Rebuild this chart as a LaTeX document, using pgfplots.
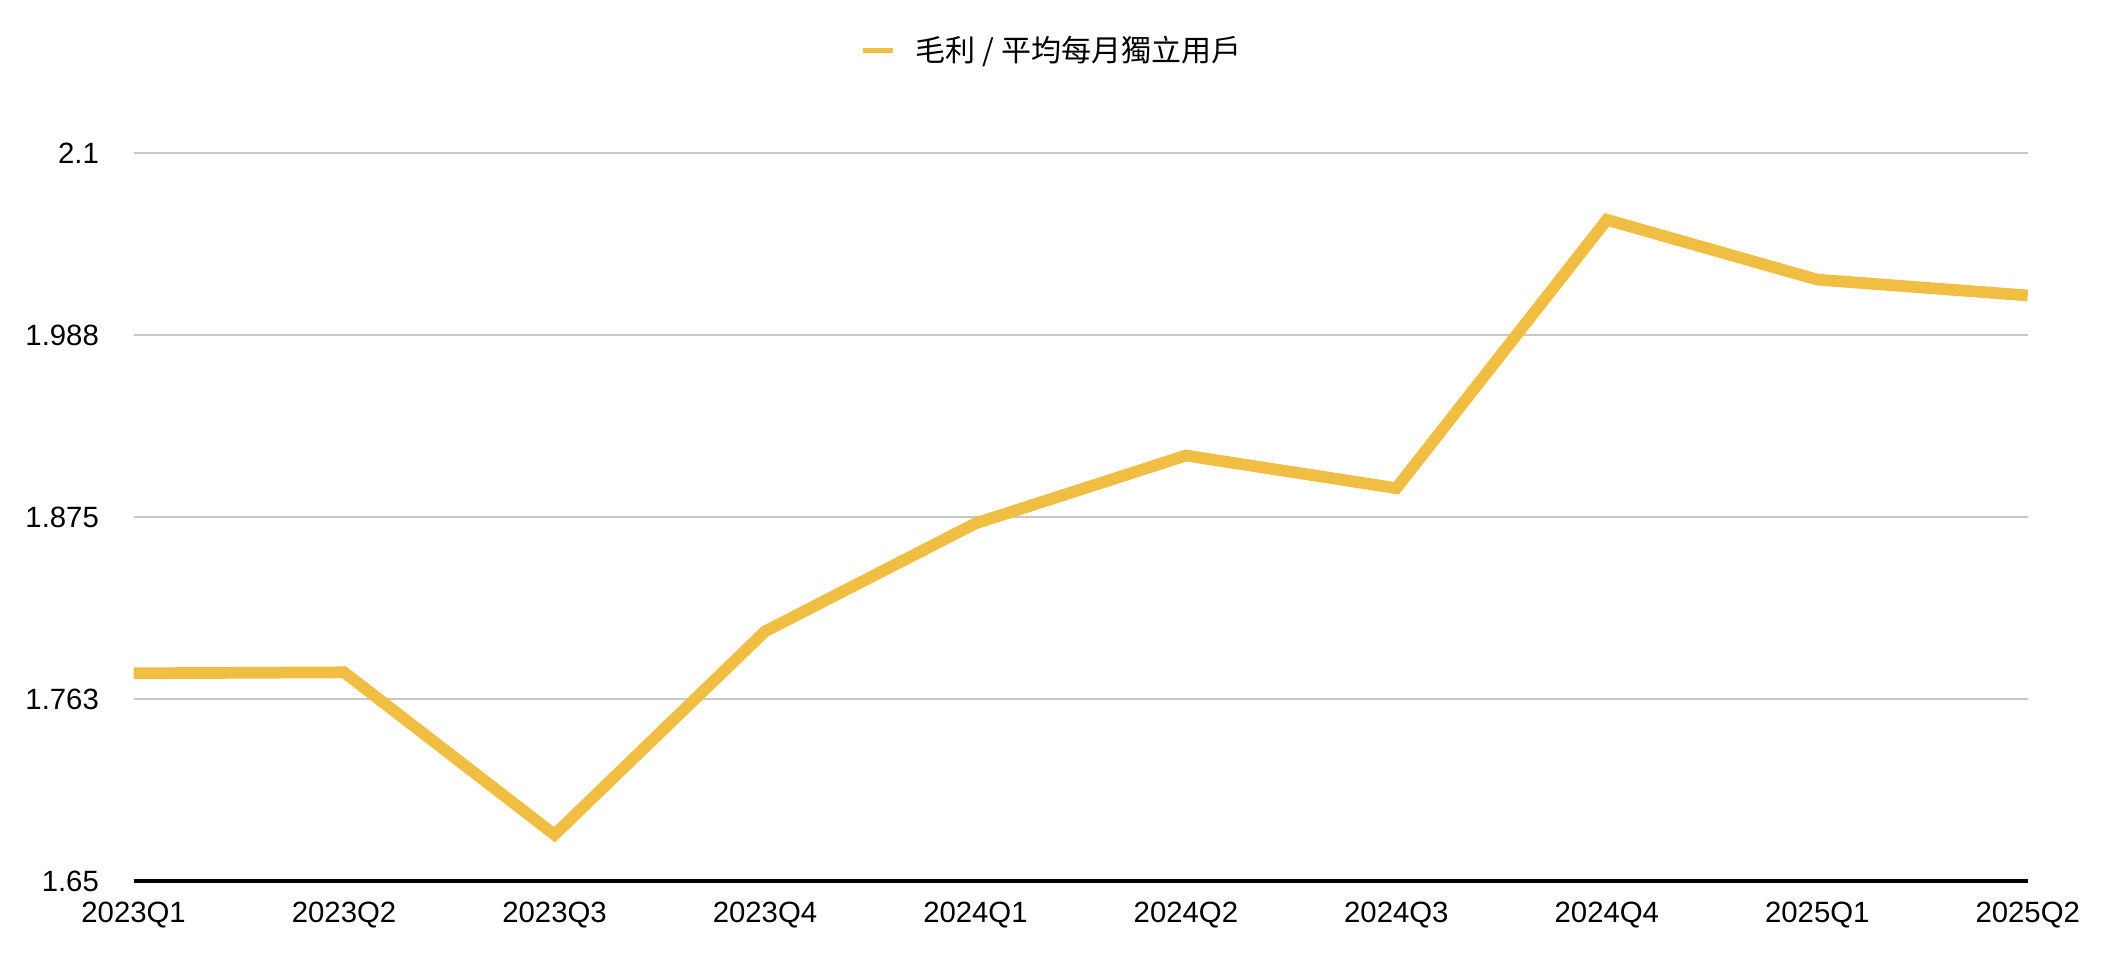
\documentclass[border=0pt]{standalone}
\usepackage{fontspec}
\setmainfont{Liberation Sans}
\newfontfamily\cjk{Noto Sans CJK TC}
\usepackage{pgfplots}
\pgfplotsset{compat=1.18}
\definecolor{linecol}{RGB}{239,190,66}
\definecolor{gridcol}{RGB}{200,200,200}
\begin{document}
\begin{tikzpicture}
\path[use as bounding box] (-50.1pt,-27.4pt) rectangle (741.8pt,330.3pt);
\begin{axis}[
  at={(0pt,0pt)}, anchor=south west,
  width=710.2pt, height=272.8pt, scale only axis,
  xmin=0, xmax=9, ymin=1.65, ymax=2.1,
  axis x line*=bottom, axis y line*=left,
  x axis line style={black, line width=1.3pt},
  y axis line style={draw=none},
  ytick={1.65,1.7625,1.875,1.9875,2.1},
  yticklabels={1.65,1.763,1.875,1.988,2.1},
  xtick={0,1,2,3,4,5,6,7,8,9},
  xticklabels={2023Q1,2023Q2,2023Q3,2023Q4,2024Q1,2024Q2,2024Q3,2024Q4,2025Q1,2025Q2},
  ymajorgrids, grid style={gridcol, line width=0.75pt},
  major tick length=0pt,
  tick label style={font=\fontsize{11}{13}\selectfont},
  xticklabel style={yshift=-4.5pt},
  yticklabel style={xshift=-9.5pt},
  clip=false,
  legend style={at={(rel axis cs:0.3835,1.1411)}, anchor=west, draw=none, fill=none,
    inner sep=0pt, nodes={inner sep=0pt}, font=\cjk\fontsize{11.25}{13}\selectfont},
  legend image code/.code={\draw[linecol, line width=1.9pt] (0pt,0pt) -- (11.25pt,0pt); \path (17.6pt,0pt);},
]
\addplot[linecol, line width=4.4pt, line join=miter, mark=none] coordinates {
  (0,1.7784) (1,1.7790) (2,1.6786) (3,1.8043) (4,1.8711)
  (5,1.9131) (6,1.8929) (7,2.0589) (8,2.0219) (9,2.0121)
};
\addlegendentry{毛利 / 平均每月獨立用戶}
\end{axis}
\end{tikzpicture}
\end{document}
